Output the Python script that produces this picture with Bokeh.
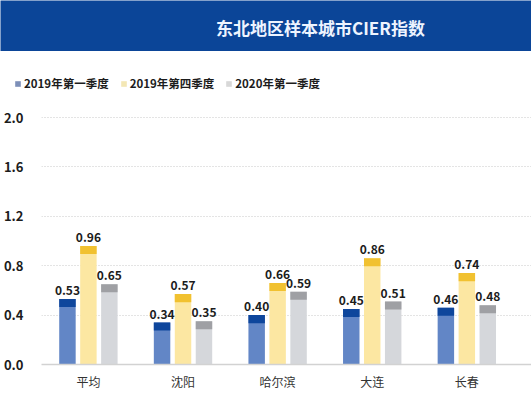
from bokeh.plotting import figure
from bokeh.models import (ColumnDataSource, Range1d, FixedTicker, LabelSet, Label,
                          Legend, LegendItem)
from bokeh.core.properties import value
from bokeh.transform import dodge
from bokeh.layouts import column
from bokeh.embed import file_html
from bokeh.resources import INLINE

TITLE = "东北地区样本城市CIER指数"
cities = ["平均", "沈阳", "哈尔滨", "大连", "长春"]
series_names = ["2019年第一季度", "2019年第四季度", "2020年第一季度"]
q1_2019 = [0.53, 0.34, 0.40, 0.45, 0.46]
q4_2019 = [0.96, 0.57, 0.66, 0.86, 0.74]
q1_2020 = [0.65, 0.35, 0.59, 0.51, 0.48]
y_ticks = [0.0, 0.4, 0.8, 1.2, 1.6, 2.0]

FONT = "Noto Sans CJK SC"
light_colors = ["#6286c6", "#fce7a2", "#d5d7db"]
cap_colors = ["#0e469c", "#f1c130", "#9fa0a4"]
legend_colors = ["#7d8fb8", "#f3e7b4", "#d8d8d8"]
CAP = 0.065
OFFS = [-0.2215, 0.0, 0.2215]
BAR_W = 0.174
W = 531


def strip(height):
    f = figure(width=W, height=height, x_range=Range1d(0, W), y_range=Range1d(0, height),
               output_backend="svg", toolbar_location=None, min_border=0,
               x_axis_location=None, y_axis_location=None)
    f.frame_align = False
    f.grid.visible = False
    f.outline_line_color = None
    return f


# ---------- header ----------
HH = 51
hdr = strip(HH)
hdr.background_fill_color = "#0b4598"
hdr.border_fill_color = "#0b4598"
hdr.add_layout(Label(x=320, y=HH - 27, text=TITLE, text_align="center",
                     text_baseline="middle", text_color="#eef4ff",
                     text_font=FONT, text_font_size="17px", text_font_style="bold"))

# ---------- legend strip ----------
LH = 50
lg = strip(LH)
items = []
for vals, name, c in zip([q1_2019, q4_2019, q1_2020], series_names, legend_colors):
    r = lg.vbar(x=list(range(len(cities))), top=vals, width=0.5,
                fill_color=c, line_color=None, visible=False)
    items.append(LegendItem(label=name, renderers=[r]))
legend = Legend(items=items, orientation="horizontal", location=(14, 10),
                glyph_width=7, glyph_height=7, label_standoff=3, spacing=11,
                padding=0, margin=0, label_height=12,
                label_text_font=FONT, label_text_font_size="11.5px",
                label_text_font_style="bold", label_text_color="#1c1c1c",
                background_fill_alpha=0, border_line_color=None)
lg.add_layout(legend, "center")

# ---------- main ----------
MH = 412 - HH - LH
p = figure(width=W, height=MH, x_range=Range1d(-0.4958, 4.6835), y_range=Range1d(0, 2.057),
           output_backend="svg", toolbar_location=None,
           min_border_top=9, min_border_bottom=48, min_border_left=40, min_border_right=0)
p.frame_align = False
p.outline_line_color = None
p.xgrid.visible = False
p.ygrid.grid_line_color = "#c8c8c8"
p.ygrid.grid_line_dash = "1 2"
p.ygrid.grid_line_width = 1

p.yaxis.ticker = FixedTicker(ticks=y_ticks)
p.yaxis.major_label_overrides = {t: f"{t:.1f}" for t in y_ticks}
p.yaxis.axis_line_color = None
p.yaxis.major_tick_line_color = None
p.yaxis.minor_tick_line_color = None
p.yaxis.major_label_standoff = 12
p.yaxis.major_label_text_font = FONT
p.yaxis.major_label_text_font_size = "13px"
p.yaxis.major_label_text_font_style = "bold"
p.yaxis.major_label_text_color = "#1c1c1c"

p.xaxis.ticker = FixedTicker(ticks=list(range(len(cities))))
p.xaxis.major_label_overrides = {i: c for i, c in enumerate(cities)}
p.xaxis.axis_line_color = "#d2d2d2"
p.xaxis.axis_line_width = 1.5
p.xaxis.major_tick_line_color = None
p.xaxis.minor_tick_line_color = None
p.xaxis.major_label_standoff = 2
p.xaxis.major_label_text_font = FONT
p.xaxis.major_label_text_font_size = "12px"
p.xaxis.major_label_text_color = "#333333"

for vals, lc, cc, off in zip([q1_2019, q4_2019, q1_2020], light_colors, cap_colors, OFFS):
    src = ColumnDataSource(dict(
        x=list(range(len(cities))),
        top=vals,
        cap_bottom=[v - CAP for v in vals],
        label=[f"{v:.2f}" for v in vals],
    ))
    p.vbar(x=dodge("x", off), top="top", bottom=0, width=BAR_W, source=src,
           fill_color=lc, line_color=None)
    p.vbar(x=dodge("x", off), top="top", bottom="cap_bottom", width=BAR_W, source=src,
           fill_color=cc, line_color=None)
    p.add_layout(LabelSet(x=dodge("x", off), y="top", text="label", source=src,
                          y_offset=4, text_align="center", text_baseline="bottom",
                          text_font=value(FONT), text_font_size=value("12px"),
                          text_font_style="bold", text_color="#1c1c1c"))

layout = column(hdr, lg, p, spacing=0)
open("out.html", "w").write(file_html(layout, INLINE))
